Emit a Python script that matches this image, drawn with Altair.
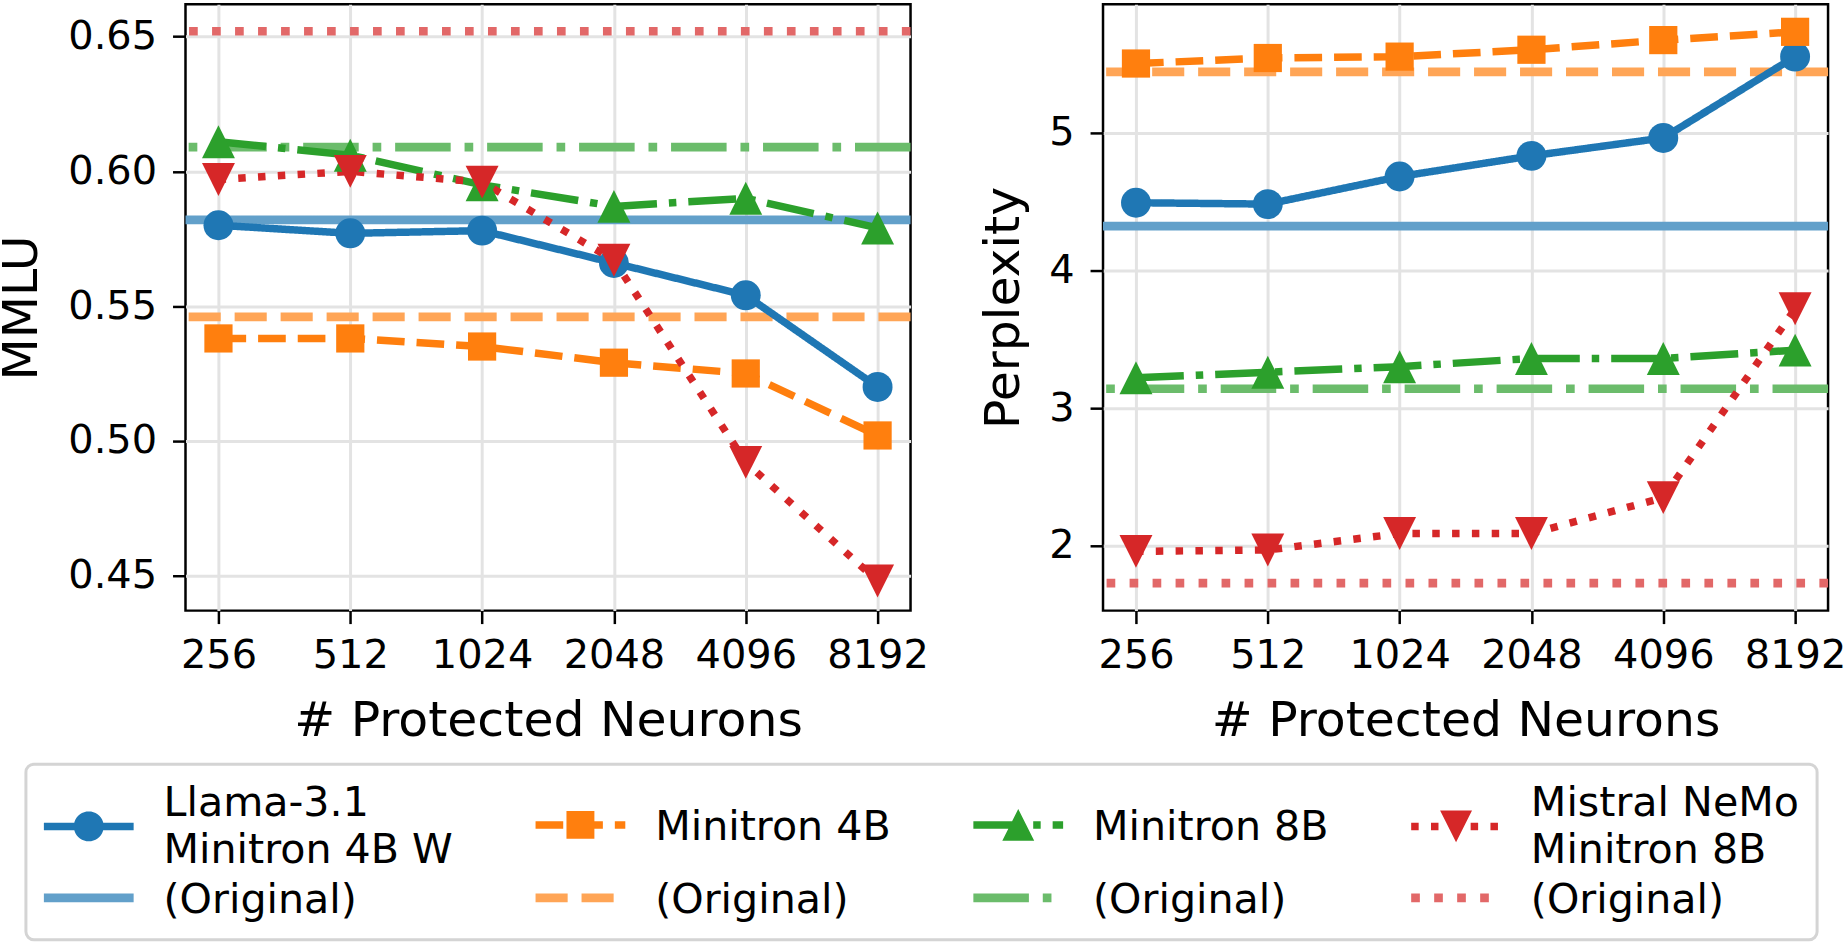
import math
import altair as alt
import pandas as pd

# ---------------- data ----------------
neurons = [256, 512, 1024, 2048, 4096, 8192]
models = ["Llama-3.1|Minitron 4B W", "Minitron 4B", "Minitron 8B", "Mistral NeMo|Minitron 8B"]

mmlu_llama = [0.580, 0.577, 0.578, 0.566, 0.554, 0.520]
mmlu_m4b = [0.538, 0.538, 0.535, 0.529, 0.525, 0.502]
mmlu_m8b = [0.611, 0.606, 0.595, 0.587, 0.590, 0.579]
mmlu_mistral = [0.597, 0.600, 0.596, 0.567, 0.492, 0.448]
mmlu_original = [0.582, 0.546, 0.609, 0.652]

ppl_llama = [4.49, 4.48, 4.68, 4.83, 4.96, 5.55]
ppl_m4b = [5.50, 5.54, 5.55, 5.60, 5.67, 5.73]
ppl_m8b = [3.22, 3.26, 3.30, 3.36, 3.36, 3.42]
ppl_mistral = [1.96, 1.97, 2.09, 2.09, 2.35, 3.72]
ppl_original = [4.32, 5.44, 3.14, 1.73]

mmlu_ticks = [0.45, 0.50, 0.55, 0.60, 0.65]
ppl_ticks = [2, 3, 4, 5]

# ---------------- tables ----------------
orig_keys = [m + " (Original)" for m in models]
rows = []
for metric, series in [("mmlu", [mmlu_llama, mmlu_m4b, mmlu_m8b, mmlu_mistral]),
                       ("ppl", [ppl_llama, ppl_m4b, ppl_m8b, ppl_mistral])]:
    for m, vals in zip(models, series):
        for n, v in zip(neurons, vals):
            rows.append({"metric": metric, "series": m, "xl": math.log2(n), "value": v})
data = pd.DataFrame(rows)
orows = []
for metric, vals in [("mmlu", mmlu_original), ("ppl", ppl_original)]:
    for k, v in zip(orig_keys, vals):
        orows.append({"metric": metric, "series": k, "value": v})
orig = pd.DataFrame(orows)

# ---------------- styles ----------------
FONT = "DejaVu Sans"
main_colors = ["#1f77b4", "#ff7f0e", "#2ca02c", "#d62728"]
orig_colors = ["#62a0ca", "#ffa556", "#6bbc6b", "#e26868"]

LW_MAIN = 7.5
LW_ORIG = 8.7
def pats(lw):
    return [[1, 0], [3.7 * lw, 1.6 * lw], [6.4 * lw, 1.6 * lw, 1.0 * lw, 1.6 * lw], [1.0 * lw, 1.65 * lw]]
dash_main = pats(LW_MAIN)
dash_orig = pats(LW_ORIG)

# legend handle glyphs: symbol box is SYM px wide; the 90 px handle starts at the box's left edge
SYM = 44.0
U = SYM / 2
X0 = -SYM / 2          # handle left edge (px, relative to symbol centre)
XM = X0 + 45           # marker centre
def f(v):
    return f"{v:.4f}"
def P(x, y):
    return f"{f(x / U)},{f(y / U)}"
def line_rects(pattern, lw, dy, total=90.0):
    h = lw / 2
    segs = []
    if pattern == [1, 0]:
        segs.append((0.0, total))
    else:
        pos, i = 0.0, 0
        while pos < total:
            L = pattern[i % len(pattern)]
            if i % 2 == 0:
                segs.append((pos, min(total, pos + L)))
            pos += L
            i += 1
    p = ""
    for a, b in segs:
        x0, x1 = X0 + a, X0 + b
        p += f"M{P(x0, dy - h)}L{P(x1, dy - h)}L{P(x1, dy + h)}L{P(x0, dy + h)}Z"
    return p
def circle(r, dy, n=40):
    pts = [(XM + r * math.cos(2 * math.pi * k / n), dy + r * math.sin(2 * math.pi * k / n)) for k in range(n)]
    return "M" + "L".join(P(x, y) for x, y in pts) + "Z"
def square(s, dy):
    return f"M{P(XM - s, dy - s)}L{P(XM + s, dy - s)}L{P(XM + s, dy + s)}L{P(XM - s, dy + s)}Z"
def tri_up(s, dy):
    return f"M{P(XM, dy - s)}L{P(XM + s, dy + s)}L{P(XM - s, dy + s)}Z"
def tri_down(s, dy):
    return f"M{P(XM, dy + s)}L{P(XM - s, dy - s)}L{P(XM + s, dy - s)}Z"

marker_fns = [lambda dy: circle(15, dy), lambda dy: square(14, dy),
              lambda dy: tri_up(16, dy), lambda dy: tri_down(16, dy)]
two_line = [True, False, False, True]

# legend order: column-major (each model followed by its original)
keys, color_range, dash_range, shape_range = [], [], [], []
for i in range(4):
    keys += [models[i], orig_keys[i]]
    color_range += [main_colors[i], orig_colors[i]]
    dash_range += [dash_main[i], dash_orig[i]]
    dy = 22 if two_line[i] else -3
    shape_range += [line_rects(dash_main[i], LW_MAIN, dy) + marker_fns[i](dy),
                    line_rects(dash_orig[i], LW_ORIG, -3)]
color_scale = alt.Scale(domain=keys, range=color_range)
dash_scale = alt.Scale(domain=keys, range=dash_range)
legend_shape_scale = alt.Scale(domain=keys, range=shape_range)

plot_markers = [("circle", 900), ("square", 800), ("M0,-1L1,1L-1,1Z", 1089), ("M0,1L-1,-1L1,-1Z", 1089)]

W, H = 727, 608

legend_def = alt.Legend(
    orient="none", legendX=-160, legendY=762, columns=4, title=None,
    symbolSize=SYM * SYM, symbolStrokeWidth=0, symbolOpacity=1, symbolOffset=0,
    labelFont=FONT, labelFontSize=41.3, labelColor="black",
    labelOffset=120 - SYM, labelLimit=1000,
    labelExpr="indexof(datum.label, '(Original)') >= 0 ? '(Original)' : split(datum.label, '|')",
    columnPadding=82, rowPadding=7, padding=18,
    strokeColor="#d4d4d4", fillColor="white", cornerRadius=8,
)


def panel(metric, ydomain, yticks, yfmt, ytitle, yext, ytp, with_legend):
    d = data[data.metric == metric]
    o = orig[orig.metric == metric]
    x = alt.X("xl:Q", scale=alt.Scale(domain=[7.75, 13.25], nice=False, zero=False),
              axis=alt.Axis(values=[8, 9, 10, 11, 12, 13],
                            labelExpr="format(pow(2, datum.value), 'd')",
                            title="# Protected Neurons", minExtent=66, maxExtent=66,
                            labelPadding=12, titlePadding=20))
    y = alt.Y("value:Q", scale=alt.Scale(domain=ydomain, nice=False, zero=False),
              axis=alt.Axis(values=yticks, format=yfmt, title=ytitle,
                            minExtent=yext, maxExtent=yext, labelPadding=16, titlePadding=ytp))
    col = alt.Color("series:N", scale=color_scale, legend=None)
    dash = alt.StrokeDash("series:N", scale=dash_scale, legend=None)

    layers = []
    if with_legend:
        # legend carrier layer (draws nothing; its scales feed the legend)
        layers.append(
            alt.Chart(d).transform_filter("false")
            .mark_point(filled=True, opacity=1)
            .encode(
                x=x, y=y,
                color=alt.Color("series:N", scale=color_scale, legend=legend_def),
                shape=alt.Shape("series:N", scale=legend_shape_scale, legend=legend_def),
            )
        )
    rules = alt.Chart(o).mark_rule(strokeWidth=LW_ORIG).encode(y=y, color=col, strokeDash=dash)
    lines = alt.Chart(d).mark_line(strokeWidth=LW_MAIN).encode(x=x, y=y, color=col, strokeDash=dash)
    layers += [rules, lines]
    for m, (shp, sz) in zip(models, plot_markers):
        layers.append(
            alt.Chart(d).transform_filter(alt.datum.series == m)
            .mark_point(filled=True, opacity=1, shape=shp, size=sz)
            .encode(x=x, y=y, color=col)
        )
    return alt.layer(*layers).properties(width=W, height=H)


left = panel("mmlu", [0.437, 0.662], mmlu_ticks, ".2f", "MMLU", 117, 22, True)
right = panel("ppl", [1.53, 5.93], ppl_ticks, "d", "Perplexity", 54, 21, False)

chart = alt.hconcat(left, right, spacing=193, bounds="flush").properties(
    padding={"left": -4, "top": 1, "right": 0, "bottom": 0}
)

chart = chart.configure(
    font=FONT,
    style={"guide-label": {"lineHeight": 47}},
).configure_axis(
    labelFont=FONT, titleFont=FONT, labelFontSize=40, titleFontSize=49,
    titleFontWeight="normal", labelColor="black", titleColor="black",
    tickColor="black", tickWidth=2.5, tickSize=13, domain=False,
    grid=True, gridColor="#e3e3e3", gridWidth=3,
).configure_view(
    stroke="black", strokeWidth=2.5,
).configure_legend(
    strokeWidth=3,
)

chart.save("out.html", embed_options={"renderer": "svg", "actions": False})
